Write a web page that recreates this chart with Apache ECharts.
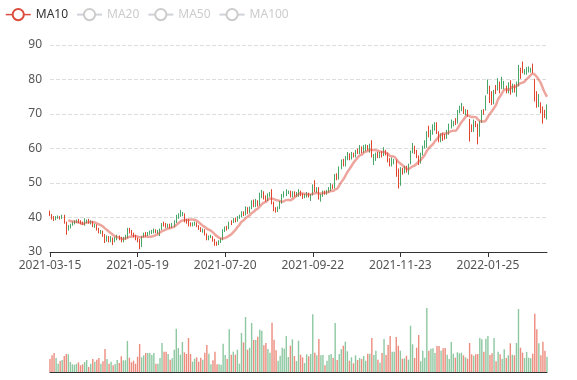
<!DOCTYPE html>
<html>
<head>
<meta charset="utf-8">
<script src="https://cdn.jsdelivr.net/npm/echarts@6/dist/echarts.min.js"></script>
<style>html,body{margin:0;padding:0;background:#fff}#main{width:577px;height:380px}</style>
</head>
<body>
<div id="main"></div>
<script>
// Trading days (month -> day numbers)
const monthDays = [
  ['2021-03', [15,16,17,18,19,22,23,24,25,26,29,30,31]],
  ['2021-04', [1,6,7,8,9,12,13,14,15,16,19,20,21,22,23,26,27,28,29]],
  ['2021-05', [4,5,6,7,10,11,12,13,14,17,18,19,20,21,24,25,26,27,28,31]],
  ['2021-06', [1,2,3,4,7,8,9,10,11,15,16,17,18,21,22,23,24,25,28,29,30]],
  ['2021-07', [1,2,5,6,7,8,9,12,13,14,15,16,19,20,21,22,23,26,27,28,29,30]],
  ['2021-08', [2,3,4,5,6,9,10,11,12,16,17,18,19,20,23,24,25,26,27,30,31]],
  ['2021-09', [1,2,3,6,7,8,9,10,13,14,15,16,17,22,23,24,27,28,29,30]],
  ['2021-10', [1,4,5,6,7,8,12,13,14,15,18,19,20,21,22,25,26,27,28,29]],
  ['2021-11', [1,2,3,4,5,8,9,10,11,12,15,16,17,18,19,22,23,24,25,26,29,30]],
  ['2021-12', [1,2,3,6,7,8,9,10,13,14,15,16,17,20,21,22,23,24,27,28,29,30]],
  ['2022-01', [4,5,6,7,10,11,12,13,14,17,18,19,20,21,24,25,26,27,28]],
  ['2022-02', [7,8,9,10,11,14,15,16,17,18,21,22,23,24,25,28]],
  ['2022-03', [1,2,3,4,7,8,9,10,11,14]]
];

// [open, close, low, high]
const candles = [
[41.8,40.6,40.4,42.0],[40.8,39.8,39.4,41.0],[40.0,39.4,39.0,40.4],[39.4,39.9,39.2,40.4],[39.8,40.2,39.6,40.6],
[40.2,39.7,39.4,40.4],[39.8,40.3,39.6,40.8],[40.6,38.6,38.2,40.8],[38.6,36.6,35.0,38.8],[36.6,37.4,36.2,37.8],
[37.2,38.0,36.8,38.2],[37.8,38.4,37.6,38.8],[38.2,38.8,38.0,39.2],[38.6,39.0,38.4,39.4],[39.2,38.8,38.4,39.6],
[38.8,38.4,38.0,39.2],[38.6,38.2,37.8,38.8],[37.8,39.2,37.6,39.8],[38.6,39.0,38.4,39.4],[39.2,38.6,38.2,39.6],
[38.4,38.8,38.0,39.2],[38.8,37.6,37.2,39.0],[37.4,37.8,37.0,38.2],[37.8,36.6,36.2,38.0],[36.8,35.8,35.4,37.0],
[35.6,36.0,35.2,36.4],[36.0,34.8,34.4,36.2],[35.0,33.4,32.6,35.2],[33.4,34.4,33.0,34.8],[34.4,33.4,32.8,34.6],
[33.2,34.2,32.8,34.6],[34.0,33.0,32.0,34.2],[33.0,34.0,32.8,34.4],[33.8,34.6,33.4,35.0],[34.6,33.8,33.4,34.8],
[34.2,33.2,32.8,34.4],[33.2,34.0,32.8,34.4],[33.8,34.6,33.6,35.0],[34.2,36.6,34.0,37.0],[36.8,35.8,35.4,37.0],
[36.2,35.2,34.8,36.4],[35.4,34.6,34.2,35.6],[34.8,33.8,33.4,35.0],[34.0,33.2,32.8,34.2],[33.6,31.6,30.8,33.8],
[31.6,34.4,31.4,34.6],[34.4,35.2,34.2,35.6],[35.6,34.8,34.4,35.8],[34.8,35.6,34.6,35.8],[35.2,35.8,35.0,36.2],
[35.4,36.0,35.2,36.4],[35.6,36.4,35.4,36.8],[36.4,35.8,35.4,36.6],[35.6,36.0,35.2,36.4],[34.8,36.6,34.6,36.8],
[36.6,38.0,36.4,38.4],[38.6,37.8,37.4,38.8],[38.0,37.4,37.0,38.4],[37.2,38.0,37.0,38.2],[38.0,37.2,36.8,38.2],
[37.2,38.0,37.0,38.4],[37.4,38.8,37.2,39.2],[38.6,40.6,38.4,40.8],[39.8,40.8,39.6,41.2],[40.4,41.6,40.2,42.2],
[40.6,41.2,40.4,41.6],[41.0,39.0,38.6,41.2],[39.4,38.6,38.2,39.6],[39.4,37.6,37.4,39.6],[38.4,37.8,37.4,38.6],
[37.6,38.2,37.4,38.6],[37.8,38.4,37.6,38.8],[38.4,37.4,37.2,38.6],[37.6,36.8,36.4,37.8],[37.0,36.2,35.8,37.2],
[35.8,36.4,35.6,36.8],[36.4,35.2,34.8,36.6],[35.2,33.8,33.4,35.4],[33.8,34.6,33.4,34.8],[34.2,34.6,34.0,35.0],
[34.4,33.4,33.0,34.6],[33.6,32.4,31.8,33.8],[32.8,32.2,31.8,33.0],[32.2,33.0,32.0,33.4],[32.8,33.6,32.6,34.0],
[33.6,36.2,33.4,36.6],[36.0,37.0,35.8,37.4],[37.4,36.6,36.2,37.6],[36.8,38.6,36.6,38.8],[39.0,38.2,37.8,39.2],
[38.6,39.6,38.4,39.8],[39.8,39.0,38.6,40.0],[39.0,40.0,38.8,40.4],[39.8,40.4,39.6,40.8],[40.2,41.4,40.0,41.8],
[41.6,40.8,40.4,41.8],[40.8,42.8,40.6,43.2],[42.8,41.4,41.0,43.0],[41.4,42.8,41.2,43.2],[42.6,44.6,42.4,45.0],
[44.8,43.4,43.0,45.2],[43.2,44.6,43.0,45.4],[44.8,43.6,43.2,45.0],[43.6,46.8,43.4,47.2],[45.8,47.6,45.6,48.0],
[47.4,45.6,45.2,47.6],[46.2,45.0,44.6,46.4],[45.0,46.8,44.8,47.0],[46.2,47.0,46.0,47.4],[47.8,44.0,43.8,48.2],
[44.4,42.2,41.8,44.6],[42.8,41.8,41.4,43.0],[41.8,42.8,41.6,43.2],[42.6,44.4,42.4,44.8],[44.2,46.4,44.0,46.8],
[46.0,47.2,45.8,47.6],[46.4,47.8,46.2,48.2],[47.0,47.4,46.8,47.8],[47.6,46.2,45.8,47.8],[46.0,47.2,45.8,47.6],
[47.4,46.4,46.0,47.6],[46.2,47.0,46.0,47.4],[46.2,47.8,46.0,48.2],[47.6,46.6,46.2,47.8],[46.8,45.8,45.4,47.0],
[45.8,46.4,45.6,46.8],[46.0,47.0,45.8,47.4],[47.0,46.2,45.8,47.2],[45.0,46.6,44.8,46.8],[46.6,49.2,46.4,49.6],
[50.2,47.6,47.4,50.8],[47.4,48.4,47.2,48.8],[48.6,45.6,45.2,48.8],[45.0,46.6,44.6,46.8],[46.2,47.4,46.0,47.8],
[47.6,47.0,46.6,47.8],[46.8,47.8,46.6,48.0],[47.4,48.4,47.2,48.8],[47.8,49.4,47.6,50.0],[49.4,48.6,48.2,49.6],
[48.6,52.0,48.4,52.6],[52.4,51.2,50.8,52.8],[51.2,54.4,51.0,54.8],[54.2,56.4,54.0,56.8],[56.6,55.2,54.8,57.0],
[55.0,57.4,54.8,57.8],[56.8,58.6,56.6,59.0],[58.4,57.0,56.6,58.6],[57.0,58.6,56.8,59.0],[58.6,57.8,57.4,58.8],
[57.6,59.2,57.4,59.6],[59.8,58.8,58.4,60.0],[58.6,60.6,58.4,61.0],[60.4,59.0,58.6,60.6],[59.0,60.6,58.8,61.0],
[59.4,60.8,59.2,61.2],[60.8,59.8,59.4,61.0],[59.0,61.0,58.8,61.4],[62.0,57.8,57.4,62.4],[56.0,58.0,55.2,58.4],
[56.6,58.4,56.4,58.8],[58.8,57.6,57.2,59.0],[57.4,58.6,57.2,59.0],[59.0,57.8,57.4,59.2],[58.0,60.0,57.8,60.4],
[59.4,58.4,58.0,59.6],[58.6,56.4,56.0,58.8],[57.0,55.2,54.8,57.2],[55.0,57.0,54.8,57.4],[55.6,56.6,55.4,57.0],
[56.6,52.2,51.8,56.8],[54.0,49.0,48.4,54.2],[49.4,54.2,49.2,54.6],[54.2,52.8,52.4,54.4],[53.0,54.6,52.8,55.0],
[54.8,53.4,53.0,55.0],[52.6,55.2,52.4,55.6],[55.6,59.0,55.4,59.4],[58.8,61.2,58.6,61.6],[60.6,58.8,58.4,60.8],
[59.4,57.6,57.2,59.6],[57.8,55.6,55.2,58.0],[55.8,58.4,55.6,58.8],[58.2,60.4,58.0,60.8],[60.2,62.0,60.0,62.4],
[60.4,64.6,60.2,65.0],[66.4,63.6,63.2,66.6],[62.4,65.0,62.2,65.4],[64.2,66.6,64.0,67.0],[65.4,67.2,65.2,67.6],
[67.4,64.6,64.2,67.6],[64.8,62.4,61.8,65.0],[62.0,64.0,61.8,64.4],[64.4,62.6,62.2,64.6],[64.0,63.0,62.6,64.2],
[63.0,65.0,62.8,65.4],[64.2,66.8,64.0,67.2],[66.0,68.0,65.8,68.4],[66.6,67.6,66.4,68.0],[68.6,67.2,66.8,68.8],
[67.4,70.8,67.2,71.2],[70.4,72.0,70.2,72.4],[71.0,72.8,70.8,73.2],[72.0,70.4,70.0,72.2],[69.8,71.0,69.6,71.4],
[71.0,69.6,69.2,71.2],[68.4,64.6,62.0,68.6],[66.8,65.2,64.8,67.0],[65.0,68.0,64.8,68.4],[67.8,66.6,66.2,68.0],
[67.0,64.4,61.2,67.2],[63.6,67.6,63.4,68.0],[67.6,70.8,67.4,71.2],[71.0,70.2,69.8,71.4],[71.2,75.0,71.0,75.4],
[76.0,79.6,75.8,80.0],[78.0,73.6,73.2,78.2],[76.4,73.0,72.6,76.6],[73.2,76.6,72.8,77.0],[78.2,76.2,75.8,78.4],
[77.0,80.0,76.8,80.4],[79.2,76.4,76.0,79.4],[77.4,80.4,77.2,80.8],[77.4,79.2,77.2,79.6],[78.0,76.4,76.0,78.2],
[76.2,78.8,76.0,79.2],[79.6,76.0,75.6,79.8],[76.4,78.4,76.2,78.8],[78.4,76.6,76.2,78.6],[75.2,79.0,75.0,79.4],
[78.2,83.8,78.0,84.2],[83.2,80.6,80.2,83.4],[84.8,82.2,81.8,85.2],[81.6,82.6,81.4,83.0],[81.6,83.2,81.4,83.6],
[82.2,83.4,82.0,83.8],[82.2,83.0,82.0,83.4],[84.4,82.2,81.8,84.6],[79.6,74.0,73.6,80.2],[76.4,72.2,71.8,76.6],
[72.2,75.4,72.0,75.8],[73.2,70.6,70.2,73.4],[72.0,67.6,67.2,72.2],[71.0,69.2,68.8,71.2],[68.6,72.4,68.4,72.8]
];

const volumes = [
130,167,190,140,83,110,120,160,180,177,100,77,73,83,97,67,77,100,120,50,83,130,103,123,140,83,107,230,130,83,
103,67,80,120,90,157,117,117,310,143,97,113,83,153,280,147,167,190,190,190,170,190,83,83,140,290,203,203,180,123,
137,223,433,240,173,300,197,180,340,180,103,133,147,103,143,123,193,270,183,77,117,203,77,77,73,283,170,
130,427,173,203,173,223,83,390,297,550,223,243,490,320,320,353,423,413,267,290,230,193,493,323,217,113,163,243,233,360,
150,263,327,160,110,313,173,147,90,177,157,180,577,193,167,330,167,170,67,113,170,180,140,490,120,180,
227,263,303,207,113,147,87,167,120,140,130,160,113,183,183,340,170,213,123,93,190,330,170,270,360,203,203,350,263,213,
133,137,163,123,463,277,140,243,370,107,213,143,640,213,233,237,190,260,260,213,237,240,173,130,300,183,143,
197,187,193,167,147,133,290,177,163,177,180,340,327,203,333,360,170,187,340,107,203,177,133,227,140,167,287,173,167,290,
630,243,193,140,200,143,137,183,583,427,287,167,303,213,153
];

const maNames = ['MA10', 'MA20', 'MA50', 'MA100'];
const maPeriods = [10, 20, 50, 100];
const yTicks = [30, 40, 50, 60, 70, 80, 90];

const upColor = '#47a768';
const downColor = '#e0452e';

const dates = [];
monthDays.forEach(([m, days]) => days.forEach(d => dates.push(m + '-' + String(d).padStart(2, '0'))));

function calcMA(n) {
  const out = [];
  for (let i = 0; i < candles.length; i++) {
    if (i < n - 1) { out.push('-'); continue; }
    let s = 0;
    for (let j = 0; j < n; j++) s += candles[i - j][1];
    out.push(+(s / n).toFixed(3));
  }
  return out;
}

const volData = volumes.map((v, i) => ({
  value: v,
  itemStyle: { color: candles[i][1] < candles[i][0] ? downColor : upColor }
}));

const maColors = ['#dc4c3c', '#5070dd', '#ff994d', '#0ca8df'];
const FONT = 'Noto Sans';

const chart = echarts.init(document.getElementById('main'), null, { renderer: 'canvas' });
chart.setOption({
  animation: false,
  backgroundColor: '#fff',
  textStyle: { fontFamily: FONT },
  legend: {
    data: maNames,
    left: 0,
    top: 3,
    selected: { MA10: true, MA20: false, MA50: false, MA100: false },
    textStyle: { fontSize: 12, color: '#333', fontFamily: FONT },
    inactiveColor: '#ccc',
    lineStyle: { width: 1.5, opacity: 1 },
    itemStyle: { borderWidth: 1.5, opacity: 1 }
  },
  grid: [
    { left: 50, right: 30, top: 45, height: 207 },
    { left: 50, right: 30, top: 300, height: 72 }
  ],
  xAxis: [
    {
      type: 'category', data: dates, boundaryGap: false,
      axisLine: { onZero: false, lineStyle: { color: '#333' } },
      axisTick: { show: true, interval: 42, lineStyle: { color: '#333' } },
      axisLabel: { interval: 42, color: '#555', fontSize: 12, fontFamily: FONT },
      splitLine: { show: false }
    },
    {
      type: 'category', gridIndex: 1, data: dates, boundaryGap: false,
      axisLine: { onZero: false, lineStyle: { color: '#333' } },
      axisTick: { show: false }, axisLabel: { show: false }, splitLine: { show: false }
    }
  ],
  yAxis: [
    {
      type: 'value', min: yTicks[0], max: yTicks[yTicks.length - 1], interval: 10,
      axisLine: { show: false }, axisTick: { show: false },
      axisLabel: { color: '#555', fontSize: 12, fontFamily: FONT },
      splitLine: { lineStyle: { type: 'dashed', color: '#ddd' } }
    },
    {
      type: 'value', gridIndex: 1, min: 0, max: 720,
      axisLine: { show: false }, axisTick: { show: false }, axisLabel: { show: false }, splitLine: { show: false }
    }
  ],
  series: [
    {
      name: 'K', type: 'candlestick', data: candles,
      itemStyle: { color: upColor, color0: downColor, borderColor: upColor, borderColor0: downColor }
    },
    ...maNames.map((name, k) => ({
      name, type: 'line', data: calcMA(maPeriods[k]), smooth: true, showSymbol: false,
      color: maColors[k],
      lineStyle: { width: 2.5, opacity: 0.5 }
    })),
    {
      name: 'Volume', type: 'bar', xAxisIndex: 1, yAxisIndex: 1, data: volData,
      itemStyle: { opacity: 0.62 }
    }
  ]
});
</script>
</body>
</html>
